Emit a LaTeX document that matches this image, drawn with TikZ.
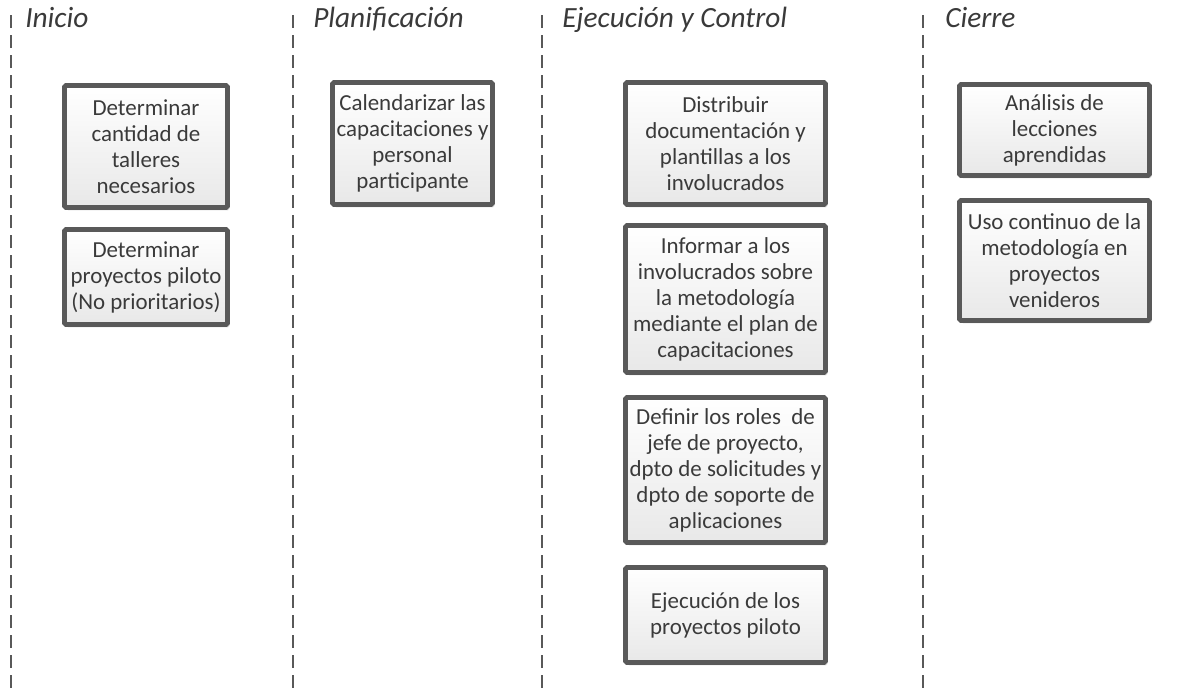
\documentclass[tikz,border=0pt]{standalone}
\usepackage{fontspec}
\setmainfont{Carlito}
\usepackage{xcolor}
\usepackage{tikz}
\usetikzlibrary{shadows}

\definecolor{borde}{HTML}{595959}
\definecolor{texto}{HTML}{3A3A3A}

\tikzset{
  fase/.style={anchor=base west, font=\fontsize{22}{26}\selectfont\itshape, text=texto, inner sep=0pt},
  tarea/.style={draw=borde, line width=3.7pt, rounded corners=1.2pt,
    top color=white, bottom color=black!9, inner sep=0pt, align=center,
    font=\fontsize{17.2}{19.5}\selectfont, text=texto,
    drop shadow={shadow xshift=1.6pt, shadow yshift=-2.2pt, fill=black!25, opacity=0.5}},
  divisor/.style={draw=borde, line width=1.1pt, dash pattern=on 9.75pt off 5.25pt}
}

\begin{document}
\begin{tikzpicture}[x=0.75pt, y=-0.75pt]
	\useasboundingbox (0,0) rectangle (1189,690);
	
	% separadores de fases
	\draw[divisor] (11,15) -- (11,690);
	\draw[divisor] (293,15) -- (293,690);
	\draw[divisor] (542,15) -- (542,690);
	\draw[divisor] (923,15) -- (923,690);
	
	% encabezados
	\node[fase] (inicio) at (25,27) {Inicio};
	\node[fase] (planif) at (313,27) {Planificación};
	\node[fase] (ejec) at (562,27) {Ejecución y Control};
	\node[fase] (cierre) at (945,27) {Cierre};
	
	% Inicio
	\node[tarea, minimum width=122.25pt, minimum height=91.5pt] (ini1) at (146,146.5)
		{Determinar\\cantidad de\\talleres\\necesarios};
	\node[tarea, minimum width=122.25pt, minimum height=71.25pt] (ini2) at (146,277)
		{Determinar\\proyectos piloto\\(No prioritarios)};
	
	% Planificacion
	\node[tarea, minimum width=120pt, minimum height=91.5pt] (pla1) at (412.5,143.5)
		{Calendarizar las\\capacitaciones y\\personal\\participante};
	
	% Ejecucion y control
	\node[tarea, minimum width=150pt, minimum height=91.5pt] (eje1) at (725.5,143.5)
		{Distribuir\\documentación y\\plantillas a los\\involucrados};
	\node[tarea, minimum width=150pt, minimum height=110.25pt] (eje2) at (725.5,299)
		{Informar a los\\involucrados sobre\\la metodología\\mediante el plan de\\capacitaciones};
	\node[tarea, minimum width=150pt, minimum height=108.75pt] (eje3) at (725.5,470)
		{Definir los roles~ de\\jefe de proyecto,\\dpto de solicitudes y\\dpto de soporte de\\aplicaciones};
	\node[tarea, minimum width=150pt, minimum height=71.25pt] (eje4) at (725.5,615)
		{Ejecución de los\\proyectos piloto};
	
	% Cierre
	\node[tarea, minimum width=142.5pt, minimum height=68.25pt] (cie1) at (1054.5,130)
		{Análisis de\\lecciones\\aprendidas};
	\node[tarea, minimum width=142.5pt, minimum height=90pt] (cie2) at (1054.5,260.5)
		{Uso continuo de la\\metodología en\\proyectos\\venideros};
\end{tikzpicture}
\end{document}
